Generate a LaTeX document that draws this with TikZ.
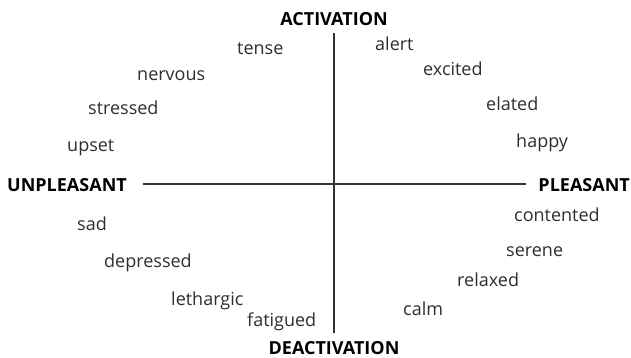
\documentclass[tikz,border=0pt]{standalone}
\usepackage{fontspec}
\setmainfont{Open Sans}
\begin{document}
\begin{tikzpicture}[x=1pt,y=-1pt,
  word/.style={anchor=base west,inner sep=0pt,text=black!82,font=\fontsize{18}{20}\selectfont},
  pole/.style={inner sep=0pt,text=black,font=\fontsize{18}{20}\selectfont\bfseries},
  axis/.style={draw=black!80,line width=1.9pt}]
\useasboundingbox (0,0) rectangle (631,358);
% axis end labels
\node[pole,anchor=base] (act) at (334,26) {ACTIVATION};
\node[pole,anchor=base] (deact) at (334,354) {DEACTIVATION};
\node[pole,anchor=base west] (unpl) at (7,191) {UNPLEASANT};
\node[pole,anchor=base east] (pl) at (630,191) {PLEASANT};
% axes
\coordinate (top) at (334.3,33);
\coordinate (bot) at (334.3,333);
\coordinate (lft) at (143,184.3);
\coordinate (rgt) at (526,184.3);
\draw[axis] (top) -- (bot);
\draw[axis] (lft) -- (rgt);
% upper left quadrant
\node[word] (tense) at (237,55) {tense};
\node[word] (nervous) at (137,81) {nervous};
\node[word] (stressed) at (88,115) {stressed};
\node[word] (upset) at (67,152) {upset};
% upper right quadrant
\node[word] (alert) at (375,51) {alert};
\node[word] (excited) at (423,76) {excited};
\node[word] (elated) at (486,111) {elated};
\node[word] (happy) at (516,148) {happy};
% lower left quadrant
\node[word] (sad) at (77,230) {sad};
\node[word] (depressed) at (104,267) {depressed};
\node[word] (lethargic) at (171,305) {lethargic};
\node[word] (fatigued) at (247,326) {fatigued};
% lower right quadrant
\node[word] (contented) at (514,221) {contented};
\node[word] (serene) at (506,256) {serene};
\node[word] (relaxed) at (457,286) {relaxed};
\node[word] (calm) at (403,315) {calm};
\end{tikzpicture}
\end{document}
